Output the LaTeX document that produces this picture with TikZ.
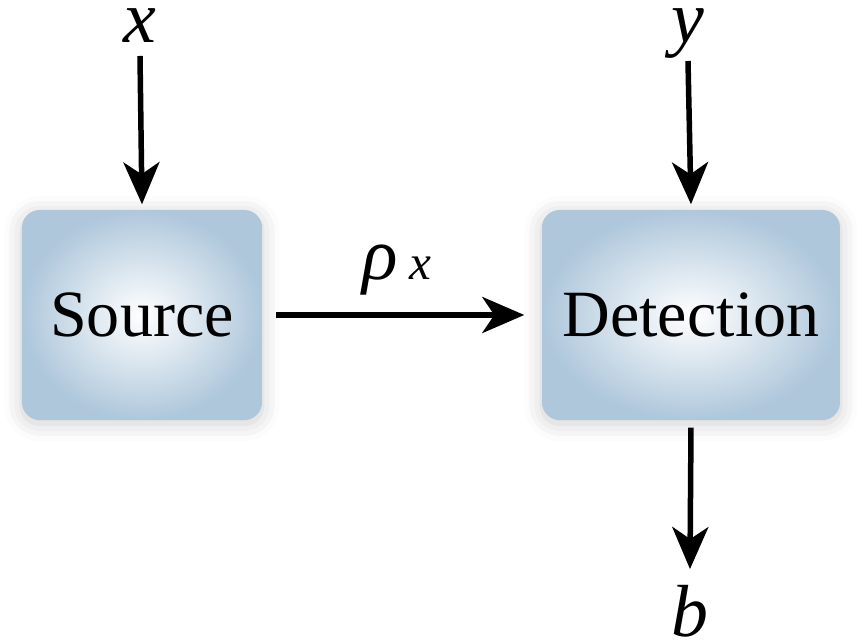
\documentclass[tikz,border=0pt]{standalone}
\usepackage{fontspec}
\setmainfont{Liberation Serif}
\usepackage{xcolor}
\usepackage{tikz}
\usetikzlibrary{positioning, arrows.meta, shadows.blur}

\definecolor{boxblue}{RGB}{174,199,219}

\begin{document}
\begin{tikzpicture}[
    block/.style={rectangle, rounded corners=5pt, minimum height=2.1cm, inner color=white, outer color=boxblue,
        blur shadow={shadow xshift=0pt, shadow yshift=-1pt, shadow opacity=20, shadow blur radius=5pt},
        font=\fontsize{18.8}{20}\selectfont},
    lbl/.style={inner sep=0pt, anchor=base, font=\fontsize{21}{23}\selectfont\itshape},
    arrow/.style={-{Stealth[length=0.42cm, width=0.36cm, inset=0.12cm]}, line width=0.055cm}
]
\useasboundingbox (0,0) rectangle (8.65,6.44);

\node[block, minimum width=2.4cm] (src) at (1.42, 3.29) {Source};
\node[block, minimum width=2.98cm] (det) at (6.91, 3.29) {Detection};

\node[lbl] (xin) at (1.40, 6.01) {x};
\node[lbl] (yin) at (6.88, 6.01) {y};
\node[lbl] (bout) at (6.90, 0.07) {b};
\node[lbl] (rho) at (3.97, 3.64) {ρ\,{\fontsize{14}{14}\selectfont x}};

\draw[arrow] ([yshift=-0.13cm]xin.base) -- ([yshift=0.05cm]src.north);
\draw[arrow] ([yshift=-0.18cm]yin.base) -- ([yshift=0.05cm]det.north);
\draw[arrow] ([xshift=0.13cm]src.east) -- ([xshift=-0.17cm]det.west);
\draw[arrow] ([yshift=-0.07cm]det.south) -- ([yshift=0.16cm]bout.north);

\end{tikzpicture}
\end{document}
